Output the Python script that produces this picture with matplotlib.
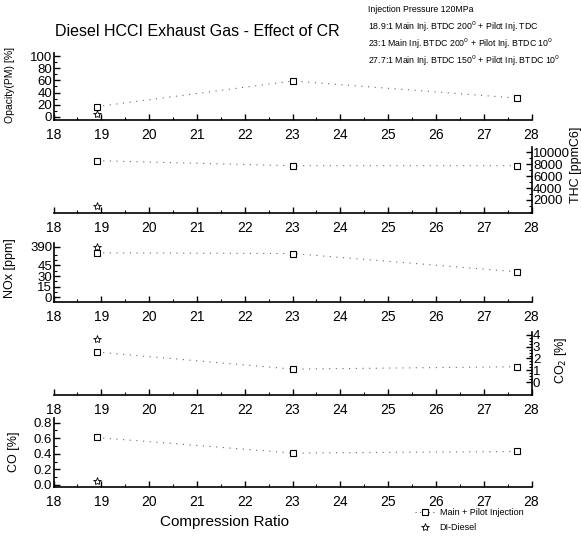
import matplotlib
matplotlib.use("Agg")
import matplotlib.pyplot as plt
import numpy as np
from matplotlib.lines import Line2D

plt.rcParams['font.family'] = ['Liberation Sans', 'DejaVu Sans']

# compression ratios
cr_pilot = [18.9, 23.0, 27.7]
cr_di = [18.9]

# values
opacity_pilot = [17, 59, 31]
opacity_di = [5]
thc_pilot = [8600, 7750, 7750]
thc_di = [900]
nox_pilot = [63, 62, 36]
nox_di = [390]
co2_pilot = [2.55, 1.1, 1.3]
co2_di = [3.66]
co_pilot = [0.61, 0.41, 0.43]
co_di = [0.05]

x_ticks = list(range(18, 29))
notes = ["Injection Pressure 120MPa",
         "18.9:1 Main Inj. BTDC 200$^0$ + Pilot Inj. TDC",
         "23:1 Main Inj. BTDC 200$^0$ + Pilot Inj. BTDC 10$^0$",
         "27.7:1 Main Inj. BTDC 150$^0$ + Pilot Inj. BTDC 10$^0$"]

W, H = 581, 539
fig = plt.figure(figsize=(W / 100, H / 100), dpi=100)

left = 53.5 / W
width = 478 / W


def make_ax(bottom_px, height_px, side):
    ax = fig.add_axes([left, 1 - bottom_px / H, width, height_px / H])
    ax.patch.set_alpha(0)
    ax.spines['top'].set_visible(False)
    if side == 'left':
        ax.spines['right'].set_visible(False)
    else:
        ax.spines['left'].set_visible(False)
        ax.yaxis.tick_right()
        ax.yaxis.set_label_position('right')
    for s in ax.spines.values():
        s.set_linewidth(1.2)
    ax.set_xlim(18, 28)
    ax.set_xticks(x_ticks)
    ax.set_xticks(np.arange(18, 28.01, 0.5), minor=True)
    ax.tick_params(axis='both', which='major', direction='in', length=4,
                   width=1)
    ax.tick_params(axis='x', labelsize=10, pad=6)
    ax.tick_params(axis='y', labelsize=9.5, pad=1)
    ax.tick_params(axis='both', which='minor', direction='in', length=2, width=0.8)
    return ax


def draw(ax, yp, yd):
    ax.plot(cr_pilot, yp, linestyle=(0, (1, 5)), color='0.4', linewidth=0.8,
            marker='s', markersize=5, markerfacecolor='white',
            markeredgecolor='black', markeredgewidth=0.8)
    ax.plot(cr_di, yd, linestyle='none', marker='*', markersize=6,
            fillstyle='none', markeredgecolor='black', markeredgewidth=0.6)


# opacity
ax1 = make_ax(120, 67, 'left')
draw(ax1, opacity_pilot, opacity_di)
ax1.set_ylim(-5, 105)
ax1.set_yticks([0, 20, 40, 60, 80, 100])
ax1.set_yticks(np.arange(0, 101, 10), minor=True)

# THC
ax2 = make_ax(213, 66, 'right')
draw(ax2, thc_pilot, thc_di)
ax2.set_ylim(-200, 10900)
ax2.set_yticks([2000, 4000, 6000, 8000, 10000])
ax2.set_yticks(np.arange(0, 10001, 1000), minor=True)

# NOx with broken top (390 ppm drawn at the break)
ax3 = make_ax(302, 59, 'left')
brk = lambda v: [x if x <= 70 else 72 for x in v]
draw(ax3, brk(nox_pilot), brk(nox_di))
ax3.set_ylim(-7, 77)
ax3.set_yticks([0, 15, 30, 45, 72])
ax3.set_yticklabels(['0', '15', '30', '45', '390'])
ax3.set_yticks(np.arange(0, 61, 7.5), minor=True)

# CO2
ax4 = make_ax(395, 63, 'right')
draw(ax4, co2_pilot, co2_di)
ax4.set_ylim(-1.1, 4.25)
ax4.set_yticks([0, 1, 2, 3, 4])
ax4.set_yticks(np.arange(0, 4.01, 0.25), minor=True)

# CO
ax5 = make_ax(487, 69, 'left')
draw(ax5, co_pilot, co_di)
ax5.set_ylim(-0.026, 0.86)
ax5.set_yticks([0, 0.2, 0.4, 0.6, 0.8])
ax5.set_yticklabels(['0.0', '0.2', '0.4', '0.6', '0.8'])
ax5.set_yticks(np.arange(0, 0.81, 0.1), minor=True)

# axis labels
fig.text(10 / W, 1 - 85 / H, "Opacity(PM) [%]", rotation=90, fontsize=7.5,
         ha='center', va='center')
fig.text(576 / W, 1 - 165 / H, "THC [ppmC6]", rotation=90, fontsize=9,
         ha='center', va='center')
fig.text(10 / W, 1 - 268 / H, "NOx [ppm]", rotation=90, fontsize=9,
         ha='center', va='center')
fig.text(561 / W, 1 - 360 / H, "CO$_2$ [%]", rotation=90, fontsize=9,
         ha='center', va='center')
fig.text(14 / W, 1 - 452 / H, "CO [%]", rotation=90, fontsize=9,
         ha='center', va='center')
fig.text(225 / W, 1 - 522 / H, "Compression Ratio", fontsize=11,
         ha='center', va='center')

# title and notes
fig.text(55 / W, 1 - 32 / H, "Diesel HCCI Exhaust Gas - Effect of CR",
         fontsize=11.5, ha='left', va='center')
for i, t in enumerate(notes):
    fig.text(368 / W, 1 - (10 + 17 * i) / H, t, fontsize=6.3,
             ha='left', va='center')

handles = [Line2D([], [], linestyle=(0, (1, 3)), color='0.4', linewidth=0.8,
                  marker='s', markersize=5, markerfacecolor='white',
                  markeredgecolor='black', markeredgewidth=0.8),
           Line2D([], [], linestyle='none', marker='*', markersize=6,
                  fillstyle='none', markeredgecolor='black', markeredgewidth=0.6)]
fig.legend(handles, ["Main + Pilot Injection", "DI-Diesel"],
           loc='lower left', bbox_to_anchor=(408 / W, 0.0), frameon=False,
           fontsize=6.5, handlelength=2.2, handletextpad=0.5,
           labelspacing=0.6, borderpad=0.3)

fig.savefig("out.png", dpi=100)
